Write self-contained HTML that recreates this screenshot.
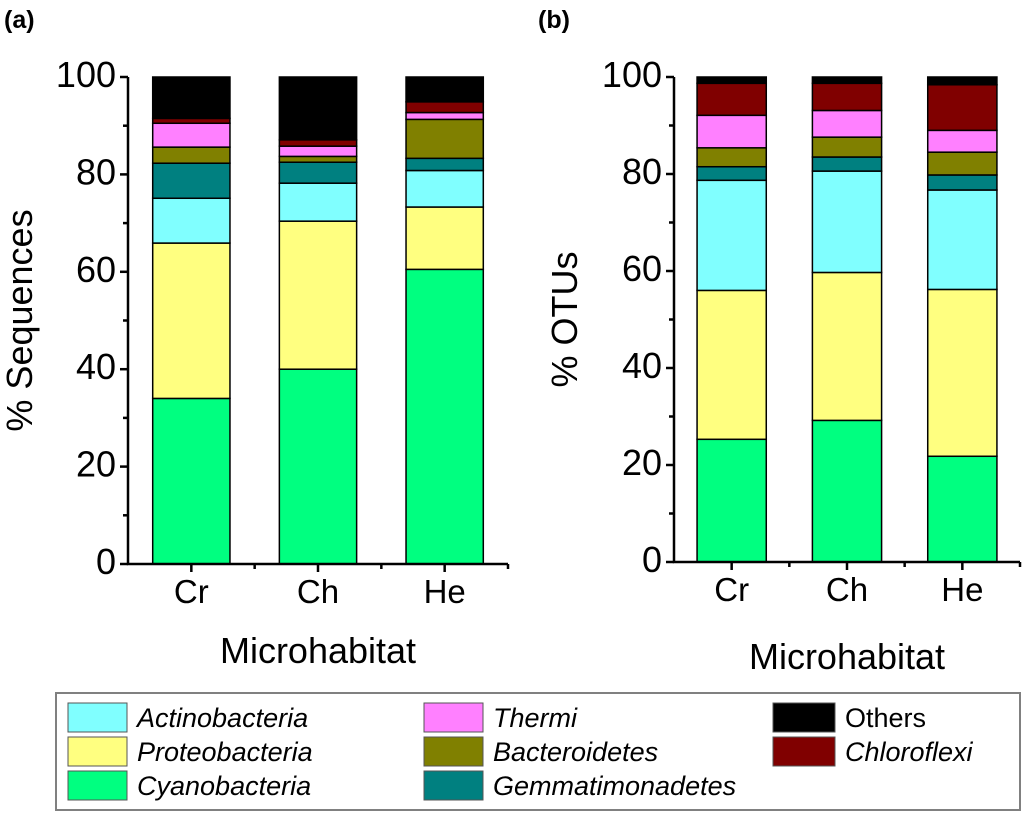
<!DOCTYPE html>
<html><head><meta charset="utf-8"><style>
body{margin:0;background:#fff;}
svg text{font-family:"Liberation Sans",Arial,sans-serif;fill:#000;}
</style></head><body>
<svg id="chart" width="1028" height="811" xmlns="http://www.w3.org/2000/svg">
<text x="4" y="28" font-size="25" font-weight="bold">(a)</text>
<text x="538" y="28" font-size="25" font-weight="bold">(b)</text>
<g id="pa"></g>
<g id="pb"></g>
<g id="legend"></g>
</svg>
<script>
const categories = ["Cr","Ch","He"];
const seriesNames = ["Cyanobacteria","Proteobacteria","Actinobacteria","Gemmatimonadetes","Bacteroidetes","Thermi","Chloroflexi","Others"];
const seriesColors = ["#00ff80","#ffff80","#80ffff","#008080","#808000","#ff80ff","#800000","#000000"];
// panel a values per series [Cr, Ch, He]
const seqCyano = [34.0, 40.0, 60.5];
const seqProteo = [31.9, 30.4, 12.8];
const seqActino = [9.2, 7.8, 7.5];
const seqGemma = [7.2, 4.3, 2.5];
const seqBactero = [3.3, 1.2, 8.0];
const seqThermi = [4.9, 2.1, 1.4];
const seqChloro = [1.0, 1.3, 2.2];
const seqOthers = [8.5, 12.9, 5.1];
// panel b values
const otuCyano = [25.3, 29.2, 21.8];
const otuProteo = [30.7, 30.5, 34.4];
const otuActino = [22.7, 20.9, 20.5];
const otuGemma = [2.8, 2.9, 3.1];
const otuBactero = [3.9, 4.1, 4.7];
const otuThermi = [6.7, 5.5, 4.5];
const otuChloro = [6.6, 5.6, 9.4];
const otuOthers = [1.3, 1.3, 1.6];
const yTicks = [0,20,40,60,80,100];

const NS="http://www.w3.org/2000/svg";
function mk(parent, tag, attrs, text){
  const e=document.createElementNS(NS,tag);
  for(const k in attrs) e.setAttribute(k,attrs[k]);
  if(text!==undefined) e.textContent=text;
  parent.appendChild(e); return e;
}
function panel(g, series, cfg){
  const {x0,x1,y0,y1,barFrac,ytitle,xtitleY,ytitleX}=cfg;
  const band=(x1-x0)/categories.length;
  const xs=i=>x0+(i+0.5)*band;
  const ys=v=>y0-(v/100)*(y0-y1);
  categories.forEach((c,i)=>{
    let acc=0;
    series.forEach((arr,s)=>{
      const v=arr[i];
      const r=mk(g,'rect',{x:xs(i)-band*barFrac/2,y:ys(acc+v),width:band*barFrac,height:ys(acc)-ys(acc+v),fill:seriesColors[s],stroke:'#000','stroke-width':1.5});
      
      
      acc+=v;
    });
    const t=mk(g,'text',{x:xs(i),y:y0+39,'font-size':33,'text-anchor':'middle'},c);
    
    
    mk(g,'line',{x1:xs(i),x2:xs(i),y1:y0,y2:y0+8,stroke:'#000','stroke-width':2.5});
    mk(g,'line',{x1:x0+(i+1)*band,x2:x0+(i+1)*band,y1:y0,y2:y0+5,stroke:'#000','stroke-width':2.5});
  });
  const ax=mk(g,'path',{d:`M${x0},${y1} V${y0} H${x1}`,fill:'none',stroke:'#000','stroke-width':2.5});
  
  
  yTicks.forEach(v=>{
    mk(g,'line',{x1:x0-8,x2:x0,y1:ys(v),y2:ys(v),stroke:'#000','stroke-width':2.5});
    if(v<100) mk(g,'line',{x1:x0-5,x2:x0,y1:ys(v+10),y2:ys(v+10),stroke:'#000','stroke-width':2.5});
    const t=mk(g,'text',{x:x0-12,y:ys(v)+10,'font-size':36,'text-anchor':'end'},String(v));
    
    
  });
  const yt=mk(g,'text',{x:ytitleX,y:(y0+y1)/2,'font-size':36,'text-anchor':'middle',transform:`rotate(-90 ${ytitleX} ${(y0+y1)/2})`},ytitle);
  
  
  const xt=mk(g,'text',{x:(x0+x1)/2,y:xtitleY,'font-size':36,'text-anchor':'middle'},'Microhabitat');
  
  
}
panel(document.getElementById('pa'),[seqCyano,seqProteo,seqActino,seqGemma,seqBactero,seqThermi,seqChloro,seqOthers],
  {x0:128,x1:508,y0:564,y1:77,barFrac:0.61,ytitle:'% Sequences',xtitleY:663,ytitleX:32});
panel(document.getElementById('pb'),[otuCyano,otuProteo,otuActino,otuGemma,otuBactero,otuThermi,otuChloro,otuOthers],
  {x0:674,x1:1020,y0:562,y1:77,barFrac:0.6,ytitle:'% OTUs',xtitleY:669,ytitleX:577});

const lg=document.getElementById('legend');
mk(lg,'rect',{x:56,y:693,width:964,height:117,fill:'#fff',stroke:'#808080','stroke-width':2});
const legendOrder=[2,1,0,5,4,3,7,6];
const colX=[68,424,773], colW=[59,59,62], rowY=[703,737,771];
legendOrder.forEach((s,k)=>{
  const col=Math.floor(k/3), row=k%3;
  const sw=mk(lg,'rect',{x:colX[col],y:rowY[row],width:colW[col],height:29,fill:seriesColors[s],stroke:'#555','stroke-width':1});
  
  
  const t=mk(lg,'text',{x:colX[col]+colW[col]+10,y:rowY[row]+24,'font-size':27,'font-style':seriesNames[s]==='Others'?'normal':'italic'},seriesNames[s]);
  
  
});
</script>
</body></html>
